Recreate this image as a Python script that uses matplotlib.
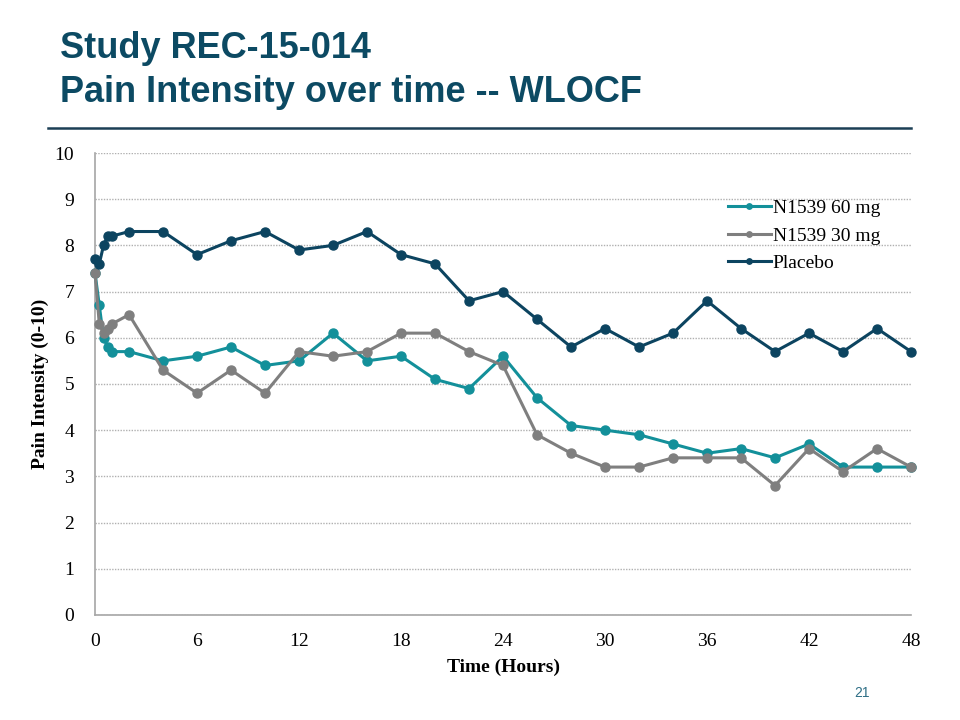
import matplotlib.pyplot as plt
from matplotlib.lines import Line2D

# Zeitpunkte in Stunden
hours = [0, 0.25, 0.5, 0.75, 1, 2, 4, 6, 8, 10, 12, 14, 16, 18, 20, 22, 24,
         26, 28, 30, 32, 34, 36, 38, 40, 42, 44, 46, 48]

# Schmerzintensitaet je Gruppe
n1539_60 = [7.4, 6.7, 6.0, 5.8, 5.7, 5.7, 5.5, 5.6, 5.8, 5.4, 5.5, 6.1, 5.5, 5.6,
            5.1, 4.9, 5.6, 4.7, 4.1, 4.0, 3.9, 3.7, 3.5, 3.6, 3.4, 3.7, 3.2, 3.2, 3.2]
n1539_30 = [7.4, 6.3, 6.1, 6.2, 6.3, 6.5, 5.3, 4.8, 5.3, 4.8, 5.7, 5.6, 5.7, 6.1,
            6.1, 5.7, 5.4, 3.9, 3.5, 3.2, 3.2, 3.4, 3.4, 3.4, 2.8, 3.6, 3.1, 3.6, 3.2]
placebo = [7.7, 7.6, 8.0, 8.2, 8.2, 8.3, 8.3, 7.8, 8.1, 8.3, 7.9, 8.0, 8.3, 7.8,
           7.6, 6.8, 7.0, 6.4, 5.8, 6.2, 5.8, 6.1, 6.8, 6.2, 5.7, 6.1, 5.7, 6.2, 5.7]

series_names = ["N1539 60 mg", "N1539 30 mg", "Placebo"]
x_ticks = [0, 6, 12, 18, 24, 30, 36, 42, 48]

col_60 = "#13909a"
col_30 = "#7f7f7f"
col_pl = "#0c4460"
title_col = "#0c4a63"

fig = plt.figure(figsize=(9.6, 7.2), dpi=100)

# Titel
fig.text(0.062, 0.932, "Study REC-15-014", fontsize=26, fontweight="bold",
         family="Liberation Sans", color=title_col, va="center")
fig.text(0.062, 0.872, "Pain Intensity over time -- WLOCF", fontsize=26,
         fontweight="bold", family="Liberation Sans", color=title_col, va="center")
fig.add_artist(Line2D([0.05, 0.949], [0.822, 0.822], color="#1c3f55", lw=1.8))
fig.text(0.898, 0.038, "21", fontsize=10, family="Liberation Sans",
         color="#2f6f86", ha="center", va="center")

ax = fig.add_axes([0.099, 0.146, 0.85, 0.6415])

for vals, name, col in zip([n1539_60, n1539_30, placebo], series_names,
                           [col_60, col_30, col_pl]):
    ax.plot(hours, vals, color=col, lw=2.2, marker="o", markersize=6.5,
            label=name, clip_on=False, zorder=3)

ax.set_xlim(0, 48)
ax.set_ylim(0, 10)
ax.set_xticks(x_ticks)
ax.set_yticks(range(0, 11))
ax.yaxis.grid(True, linestyle=(0, (1, 1)), color="#b0b0b0", lw=1)
ax.set_axisbelow(True)

for s in ["top", "right"]:
    ax.spines[s].set_visible(False)
for s in ["left", "bottom"]:
    ax.spines[s].set_color("#a6a6a6")
    ax.spines[s].set_linewidth(1.2)

ax.tick_params(length=0, labelsize=14)
ax.tick_params(axis="y", pad=15)
ax.tick_params(axis="x", pad=13)
for lab in ax.get_xticklabels() + ax.get_yticklabels():
    lab.set_family("Liberation Serif")

ax.set_xlabel("Time (Hours)", fontsize=14, fontweight="bold",
              family="Liberation Serif", labelpad=6)
ax.set_ylabel("Pain Intensity (0-10)", fontsize=14, fontweight="bold",
              family="Liberation Serif", labelpad=4)

leg = ax.legend(loc="upper left", bbox_to_anchor=(0.754, 0.937), frameon=False,
                prop={"family": "Liberation Serif", "size": 14},
                handlelength=2.2, handletextpad=0.1, labelspacing=0.5,
                markerscale=0.6)

fig.savefig("out.png", dpi=100)
